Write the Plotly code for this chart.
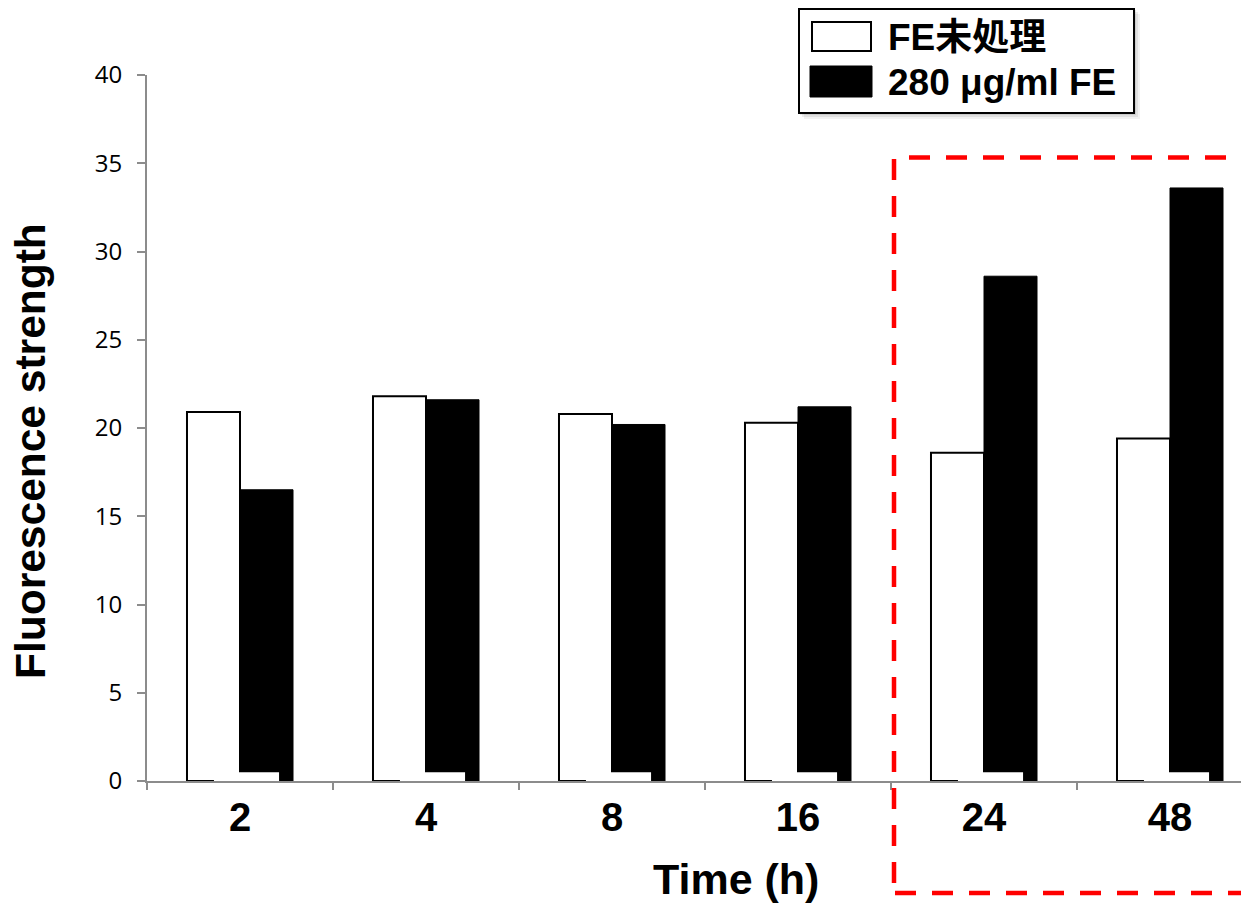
import plotly.graph_objects as go

# ---- data ----
categories = ["2", "4", "8", "16", "24", "48"]
series_names = ["FE未処理", "280 μg/ml FE"]
untreated = [20.9, 21.8, 20.8, 20.3, 18.6, 19.4]
treated = [16.5, 21.6, 20.2, 21.2, 28.6, 33.6]
y_ticks = [0, 5, 10, 15, 20, 25, 30, 35, 40]
x_title = "Time (h)"
y_title = "Fluorescence strength"

OFF = 8  # page body margin offset
W, H = 1249, 903
ML, MR, MT, MB = 147 - OFF, 0, 75 - OFF, 122 + OFF
PW, PH = W - ML - MR, H - MT - MB
CAT_PX = 186.0  # pixel width of one category band


def px(x):
    return (x - OFF - ML) / PW


def py(y):
    return (H - MB - (y - OFF)) / PH


BOLD = "Liberation Sans, Arial, Noto Sans CJK JP, sans-serif"
AXIS_GREY = "#8c8c8c"

fig = go.Figure()
fig.add_trace(go.Bar(
    x=categories, y=untreated, name=series_names[0],
    marker=dict(color="white", line=dict(color="black", width=2)),
    showlegend=False,
))
fig.add_trace(go.Bar(
    x=categories, y=treated, name=series_names[1],
    marker=dict(color="black", line=dict(color="black", width=1)),
    showlegend=False,
))

shapes = []
# white patches at the base of each bar pair (artifact in the original)
for i, _ in enumerate(categories):
    shapes.append(dict(type="rect", xref="x", yref="y",
                       x0=i - 0.14, x1=i + 0.21, y0=-0.15, y1=0.5,
                       fillcolor="white", line=dict(width=0), layer="above"))

# red dashed highlight box (three visible sides, right side off-canvas)
RED = dict(color="#ff0000", width=4.5)
shapes.append(dict(type="line", xref="paper", yref="paper",
                   x0=px(894), x1=px(1300), y0=py(157.5), y1=py(157.5),
                   line=dict(**RED, dash="0px,15px,21px,1px"), layer="above"))
shapes.append(dict(type="line", xref="paper", yref="paper",
                   x0=px(894), x1=px(894), y0=py(157), y1=py(893),
                   line=dict(**RED, dash="0px,2px,21px,14px"), layer="above"))
shapes.append(dict(type="line", xref="paper", yref="paper",
                   x0=px(893), x1=px(1300), y0=py(893), y1=py(893),
                   line=dict(**RED, dash="0px,2px,21px,14px"), layer="above"))

# legend box with soft shadow
for k, op in [(6, 0.05), (4, 0.07), (2, 0.09)]:
    shapes.append(dict(type="rect", xref="paper", yref="paper",
                       x0=px(798 + k), x1=px(1134 + k), y0=py(8 + k), y1=py(113 + k),
                       fillcolor=f"rgba(0,0,0,{op})", line=dict(width=0), layer="above"))
shapes.append(dict(type="rect", xref="paper", yref="paper",
                   x0=px(799), x1=px(1134), y0=py(9), y1=py(113),
                   fillcolor="white", line=dict(color="black", width=2), layer="above"))
shapes.append(dict(type="rect", xref="paper", yref="paper",
                   x0=px(812), x1=px(871), y0=py(22), y1=py(51),
                   fillcolor="white", line=dict(color="black", width=2), layer="above"))
shapes.append(dict(type="rect", xref="paper", yref="paper",
                   x0=px(810), x1=px(872), y0=py(66), y1=py(97),
                   fillcolor="black", line=dict(color="black", width=1), layer="above"))

annotations = [
    dict(text=f"<b>{series_names[0]}</b>", xref="paper", yref="paper",
         x=px(886), y=py(37), xanchor="left", yanchor="middle", showarrow=False,
         font=dict(family=BOLD, size=37, color="black")),
    dict(text=f"<b>{series_names[1]}</b>", xref="paper", yref="paper",
         x=px(886), y=py(83), xanchor="left", yanchor="middle", showarrow=False,
         font=dict(family=BOLD, size=37, color="black")),
    dict(text=f"<b>{x_title}</b>", xref="paper", yref="paper",
         x=px(736), y=py(879), xanchor="center", yanchor="middle", showarrow=False,
         font=dict(family=BOLD, size=43, color="black")),
    dict(text=f"<b>{y_title}</b>", xref="paper", yref="paper",
         x=px(30), y=py(451), xanchor="center", yanchor="middle", showarrow=False,
         textangle=-90, font=dict(family=BOLD, size=42.5, color="black")),
]

fig.update_layout(
    width=W, height=H,
    margin=dict(l=ML, r=MR, t=MT, b=MB, pad=0),
    paper_bgcolor="white", plot_bgcolor="white",
    barmode="group", bargap=0.43, bargroupgap=0,
    shapes=shapes, annotations=annotations,
    showlegend=False,
    xaxis=dict(
        type="category", range=[-0.5, -0.5 + PW / CAT_PX],
        tickson="boundaries", ticks="outside", ticklen=7, tickwidth=2,
        tickcolor=AXIS_GREY, showline=True, linecolor=AXIS_GREY, linewidth=2,
        showgrid=False, zeroline=False,
        tickfont=dict(family=BOLD, size=40, color="black", weight="bold"),
    ),
    yaxis=dict(
        range=[0, 40], tickvals=y_ticks, ticks="outside", ticklen=8, tickwidth=2,
        tickcolor=AXIS_GREY, showline=True, linecolor=AXIS_GREY, linewidth=2,
        showgrid=False, zeroline=False, ticklabelstandoff=10,
        tickfont=dict(family="Open Sans, sans-serif", size=24, color="black"),
    ),
)

fig.write_html("out.html")
